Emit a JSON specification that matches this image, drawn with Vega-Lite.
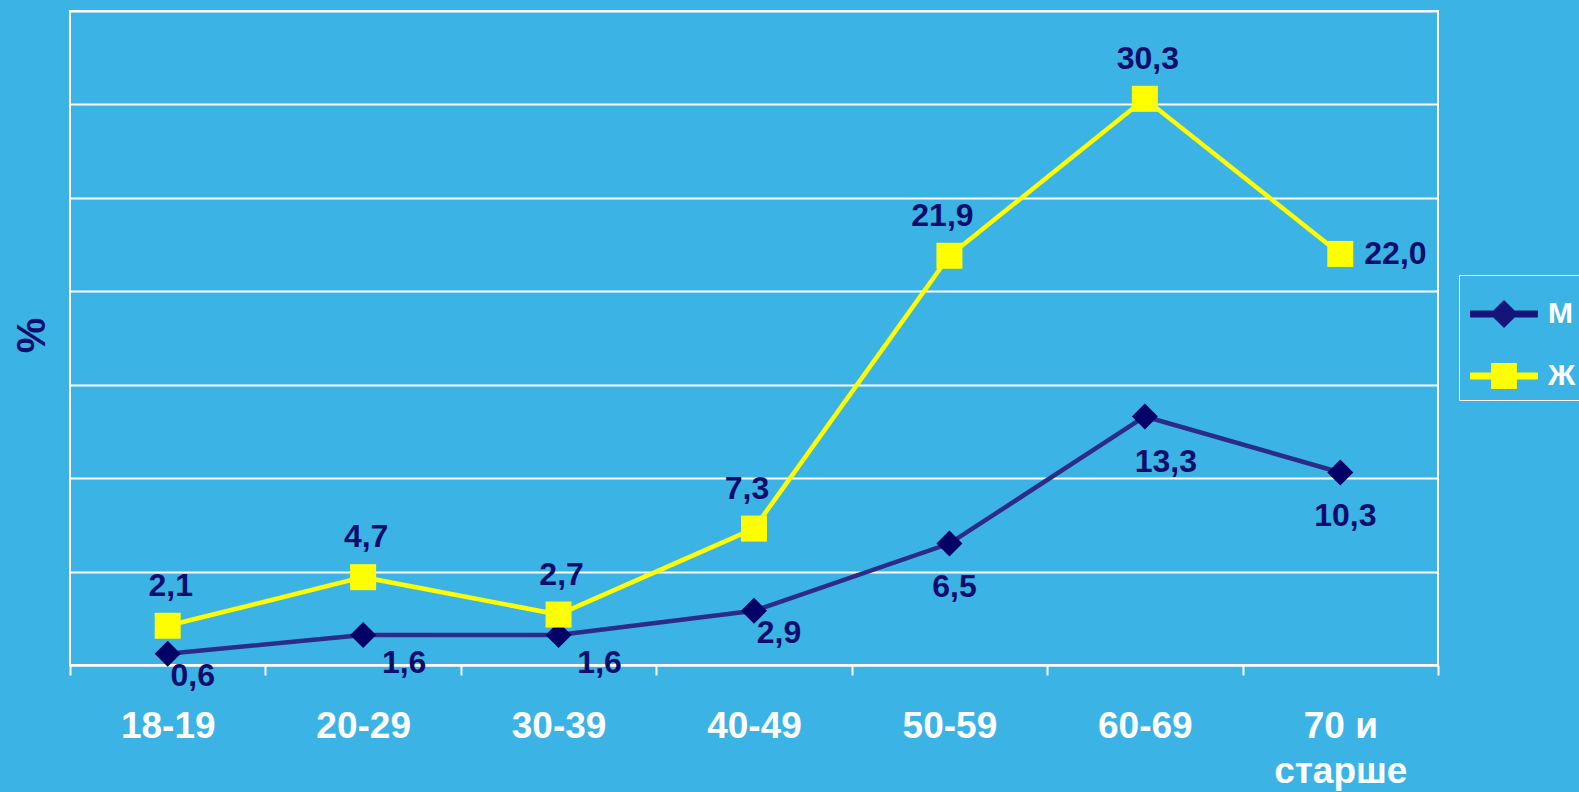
{
  "$schema": "https://vega.github.io/schema/vega-lite/v6.json",
  "autosize": {"type": "none"},
  "padding": {"left": 70, "top": 11, "right": 141, "bottom": 127},
  "width": 1368,
  "height": 654,
  "background": "#3BB4E5",
  "config": {
    "font": "Liberation Sans",
    "locale": {"number": {"decimal": ",", "thousands": "\u00a0", "grouping": [3], "currency": ["", ""]}},
    "view": {"stroke": "white", "strokeWidth": 2}
  },
  "data": {
    "values": [
      {"age": "18-19", "sex": "М", "value": 0.6},
      {"age": "20-29", "sex": "М", "value": 1.6},
      {"age": "30-39", "sex": "М", "value": 1.6},
      {"age": "40-49", "sex": "М", "value": 2.9},
      {"age": "50-59", "sex": "М", "value": 6.5},
      {"age": "60-69", "sex": "М", "value": 13.3},
      {"age": "70 и старше", "sex": "М", "value": 10.3},
      {"age": "18-19", "sex": "Ж", "value": 2.1},
      {"age": "20-29", "sex": "Ж", "value": 4.7},
      {"age": "30-39", "sex": "Ж", "value": 2.7},
      {"age": "40-49", "sex": "Ж", "value": 7.3},
      {"age": "50-59", "sex": "Ж", "value": 21.9},
      {"age": "60-69", "sex": "Ж", "value": 30.3},
      {"age": "70 и старше", "sex": "Ж", "value": 22.0}
    ]
  },
  "encoding": {
    "x": {
      "field": "age",
      "type": "nominal",
      "sort": ["18-19", "20-29", "30-39", "40-49", "50-59", "60-69", "70 и старше"],
      "scale": {"type": "band", "paddingInner": 0, "paddingOuter": 0},
      "axis": {
        "title": null,
        "grid": false,
        "labelAngle": 0,
        "labelColor": "white",
        "labelFont": "Liberation Sans",
        "labelFontSize": 37,
        "labelFontWeight": "bold",
        "labelBaseline": "alphabetic",
        "labelPadding": 62,
        "labelLineHeight": 45,
        "labelLimit": 0,
        "labelExpr": "datum.value === '70 и старше' ? ['70 и', 'старше'] : datum.value",
        "domainColor": "white",
        "domainWidth": 2,
        "tickColor": "white",
        "tickWidth": 2,
        "tickSize": 10,
        "tickBand": "extent"
      }
    },
    "y": {
      "field": "value",
      "type": "quantitative",
      "scale": {"domain": [0, 35], "nice": false},
      "axis": {
        "values": [0, 5, 10, 15, 20, 25, 30, 35],
        "domain": false,
        "ticks": false,
        "labels": false,
        "grid": true,
        "gridColor": "white",
        "gridWidth": 2,
        "title": "%",
        "titleColor": "#0D0D6B",
        "titleFont": "Liberation Sans",
        "titleFontSize": 40,
        "titleFontWeight": "bold",
        "titleAngle": -90,
        "titleX": -38,
        "titleY": 324,
        "titleAlign": "center",
        "titleBaseline": "middle"
      }
    }
  },
  "layer": [
    {
      "mark": {"type": "line", "strokeWidth": 4.5},
      "encoding": {
        "color": {
          "field": "sex",
          "type": "nominal",
          "scale": {"domain": ["М", "Ж"], "range": ["#2B2B88", "#FFFF00"]},
          "legend": {
            "title": null,
            "orient": "none",
            "legendX": 1389,
            "legendY": 264,
            "direction": "vertical",
            "strokeColor": "white",
            "padding": 9,
            "rowPadding": 17,
            "symbolSize": 3600,
            "symbolOffset": 6,
            "labelOffset": 14,
            "labelColor": "white",
            "labelFont": "Liberation Sans",
            "labelFontSize": 30,
            "labelFontWeight": "bold",
            "encode": {
              "symbols": {
                "update": {
                  "shape": {"signal": "datum.value === 'М' ? 'M-1.13,-0.117L-0.353,-0.117L0,-0.47L0.353,-0.117L1.13,-0.117L1.13,0.117L0.353,0.117L0,0.47L-0.353,0.117L-1.13,0.117Z' : 'M-1.13,-0.117L-0.43,-0.117L-0.43,-0.43L0.43,-0.43L0.43,-0.117L1.13,-0.117L1.13,0.117L0.43,0.117L0.43,0.43L-0.43,0.43L-0.43,0.117L-1.13,0.117Z'"},
                  "fill": {"signal": "datum.value === 'М' ? '#14147A' : '#FFFF00'"},
                  "stroke": {"value": "transparent"},
                  "strokeWidth": {"value": 0},
                  "opacity": {"value": 1}
                }
              }
            }
          }
        }
      }
    },
    {
      "transform": [{"filter": "datum.sex === 'М'"}],
      "mark": {"type": "point", "shape": "diamond", "filled": true, "size": 676, "color": "#000066", "opacity": 1}
    },
    {
      "transform": [{"filter": "datum.sex === 'Ж'"}],
      "mark": {"type": "point", "shape": "square", "filled": true, "size": 676, "color": "#FFFF00", "opacity": 1}
    },
    {
      "transform": [{"filter": "datum.sex === 'Ж' && (datum.age === '18-19' || datum.age === '20-29' || datum.age === '30-39' || datum.age === '60-69')"}],
      "mark": {"type": "text", "dx": 3, "dy": -40, "fontSize": 32, "fontWeight": "bold", "color": "#0D0D6B", "align": "center", "baseline": "middle"},
      "encoding": {"text": {"field": "value", "type": "quantitative", "format": ".1f"}}
    },
    {
      "transform": [{"filter": "datum.sex === 'Ж' && (datum.age === '40-49' || datum.age === '50-59')"}],
      "mark": {"type": "text", "dx": -7, "dy": -40, "fontSize": 32, "fontWeight": "bold", "color": "#0D0D6B", "align": "center", "baseline": "middle"},
      "encoding": {"text": {"field": "value", "type": "quantitative", "format": ".1f"}}
    },
    {
      "transform": [{"filter": "datum.sex === 'Ж' && datum.age === '70 и старше'"}],
      "mark": {"type": "text", "dx": 24, "dy": 0, "fontSize": 32, "fontWeight": "bold", "color": "#0D0D6B", "align": "left", "baseline": "middle"},
      "encoding": {"text": {"field": "value", "type": "quantitative", "format": ".1f"}}
    },
    {
      "transform": [{"filter": "datum.sex === 'М' && (datum.age === '18-19' || datum.age === '40-49')"}],
      "mark": {"type": "text", "dx": 25, "dy": 22, "fontSize": 32, "fontWeight": "bold", "color": "#0D0D6B", "align": "center", "baseline": "middle"},
      "encoding": {"text": {"field": "value", "type": "quantitative", "format": ".1f"}}
    },
    {
      "transform": [{"filter": "datum.sex === 'М' && (datum.age === '20-29' || datum.age === '30-39')"}],
      "mark": {"type": "text", "dx": 41, "dy": 28, "fontSize": 32, "fontWeight": "bold", "color": "#0D0D6B", "align": "center", "baseline": "middle"},
      "encoding": {"text": {"field": "value", "type": "quantitative", "format": ".1f"}}
    },
    {
      "transform": [{"filter": "datum.sex === 'М' && (datum.age === '50-59' || datum.age === '70 и старше')"}],
      "mark": {"type": "text", "dx": 5, "dy": 43, "fontSize": 32, "fontWeight": "bold", "color": "#0D0D6B", "align": "center", "baseline": "middle"},
      "encoding": {"text": {"field": "value", "type": "quantitative", "format": ".1f"}}
    },
    {
      "transform": [{"filter": "datum.sex === 'М' && datum.age === '60-69'"}],
      "mark": {"type": "text", "dx": 21, "dy": 46, "fontSize": 32, "fontWeight": "bold", "color": "#0D0D6B", "align": "center", "baseline": "middle"},
      "encoding": {"text": {"field": "value", "type": "quantitative", "format": ".1f"}}
    }
  ]
}
